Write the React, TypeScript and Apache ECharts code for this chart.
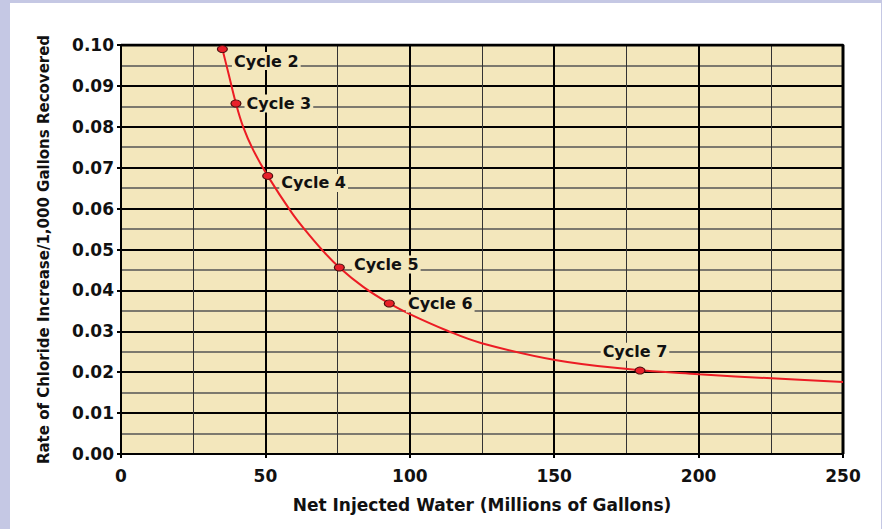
import React, { useEffect, useRef } from "react";
import * as echarts from "echarts";

const cycleNames = ["Cycle 2", "Cycle 3", "Cycle 4", "Cycle 5", "Cycle 6", "Cycle 7"];
const cycleX = [35.1, 39.8, 50.8, 75.6, 92.9, 179.7];
const cycleY = [0.0990, 0.0857, 0.0680, 0.0456, 0.0368, 0.0204];

const curveX = [35.1, 37.2, 39.8, 42.3, 45.8, 50.8, 59.1, 63.7, 69.5, 75.6, 84.0, 92.9, 100, 112.8, 124.9, 150.3, 176.2, 200.1, 225.3, 250];
const curveY = [0.0990, 0.0931, 0.0857, 0.0800, 0.0743, 0.0680, 0.0590, 0.0548, 0.0500, 0.0456, 0.0408, 0.0368, 0.0342, 0.0302, 0.0271, 0.0230, 0.0207, 0.0195, 0.0185, 0.0176];

const FONT = "DejaVu Sans";
const PLOT_BG = "#f3e7bc";

export default function App() {
  const ref = useRef<HTMLDivElement>(null);
  useEffect(() => {
    if (!ref.current) return;
    const chart = echarts.init(ref.current, null, { renderer: "svg" });
    const labelCfg = [
      { position: "right", distance: 4, offset: [0, 12] },
      { position: "right", distance: 3, offset: [0, 0] },
      { position: "right", distance: 6, offset: [0, 7] },
      { position: "right", distance: 7, offset: [0, -3] },
      { position: "right", distance: 11, offset: [0, 0] },
      { position: "top", distance: 6, offset: [-5, 0] },
    ];
    chart.setOption({
      animation: false,
      backgroundColor: "#c5c8e4",
      graphic: [
        { type: "rect", z: -10, shape: { x: 10, y: 3, width: 871, height: 530 }, style: { fill: "#ffffff" } },
      ],
      grid: {
        left: 121, top: 45, width: 722, height: 409,
        show: true, backgroundColor: PLOT_BG, borderColor: "#000", borderWidth: 0,
      },
      xAxis: {
        type: "value", min: 0, max: 250, interval: 50,
        name: "Net Injected Water (Millions of Gallons)",
        nameLocation: "middle", nameGap: 42,
        nameTextStyle: { fontFamily: FONT, fontWeight: "bold", fontSize: 17, color: "#111" },
        axisLine: { show: true, onZero: false, lineStyle: { color: "#000", width: 2 } },
        axisTick: { show: true, length: 4, lineStyle: { color: "#000", width: 2 } },
        axisLabel: { margin: 13, fontFamily: FONT, fontWeight: "bold", fontSize: 17, color: "#111" },
        splitLine: { show: true, lineStyle: { color: "#000", width: 2 } },
        minorTick: { show: false, splitNumber: 2 },
        minorSplitLine: { show: true, lineStyle: { color: "#333", width: 1 } },
      },
      yAxis: {
        type: "value", min: 0, max: 0.1, interval: 0.01,
        name: "Rate of Chloride Increase/1,000 Gallons Recovered",
        nameLocation: "middle", nameGap: 70,
        nameTextStyle: { fontFamily: FONT, fontWeight: "bold", fontSize: 15, color: "#111" },
        axisLine: { show: true, onZero: false, lineStyle: { color: "#000", width: 2 } },
        axisTick: { show: true, length: 4, lineStyle: { color: "#000", width: 2 } },
        axisLabel: {
          margin: 7, fontFamily: FONT, fontWeight: "bold", fontSize: 17, color: "#111",
          formatter: (v: number) => v.toFixed(2),
        },
        splitLine: { show: true, lineStyle: { color: "#000", width: 2 } },
        minorTick: { show: false, splitNumber: 2 },
        minorSplitLine: { show: true, lineStyle: { color: "#555", width: 1.5 } },
      },
      series: [
        {
          type: "line",
          data: curveX.map((x, i) => [x, curveY[i]]),
          smooth: 0.4,
          showSymbol: false,
          symbol: "none",
          lineStyle: { color: "#ec1c24", width: 2 },
          z: 3,
        },
        {
          type: "line",
          data: [[250, 0], [250, 0.1], [0, 0.1]],
          showSymbol: false, symbol: "none", silent: true,
          lineStyle: { color: "#000", width: 3 },
          z: 2,
        },
        {
          type: "scatter",
          symbol: "circle",
          symbolSize: [10, 7],
          itemStyle: { color: "#e8202a", borderColor: "#4a0d0d", borderWidth: 1, opacity: 1 },
          z: 5,
          data: cycleX.map((x, i) => ({
            value: [x, cycleY[i]],
            name: cycleNames[i],
            label: {
              show: true,
              formatter: cycleNames[i],
              position: labelCfg[i].position,
              distance: labelCfg[i].distance,
              offset: labelCfg[i].offset,
              fontFamily: FONT, fontWeight: "bold", fontSize: 16, color: "#111",
              backgroundColor: PLOT_BG, padding: [1, 2],
            },
          })),
        },
      ],
    });
    return () => chart.dispose();
  }, []);
  return <div ref={ref} style={{ position: "fixed", left: 0, top: 0, width: 882, height: 529 }} />;
}
